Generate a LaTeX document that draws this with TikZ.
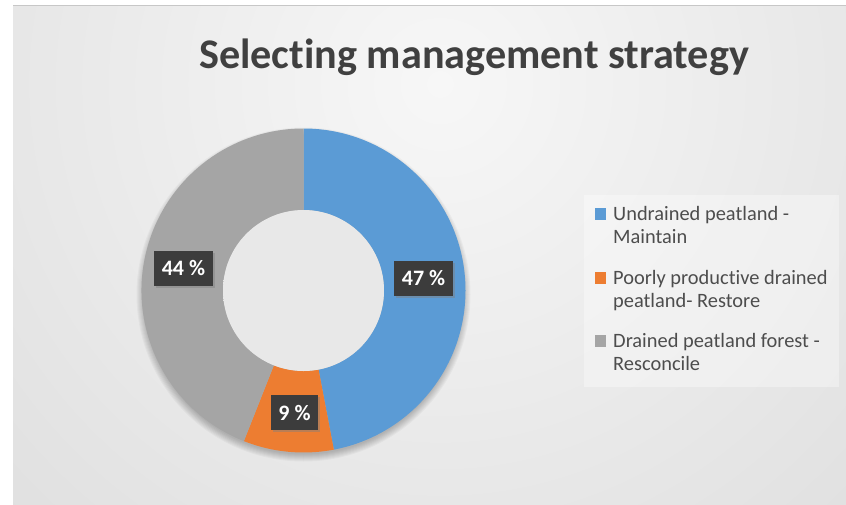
\documentclass[tikz,border=0pt]{standalone}
\usepackage{fontspec}
\setmainfont{Carlito}[Ligatures={NoCommon}]
\usetikzlibrary{shadows}
\definecolor{bgin}{HTML}{F7F7F7}
\definecolor{bgout}{HTML}{C6C6C6}
\definecolor{hin}{HTML}{E8E8E8}
\definecolor{hout}{HTML}{D4D4D4}
\definecolor{sblue}{HTML}{5B9BD5}
\definecolor{sorange}{HTML}{ED7D31}
\definecolor{sgray}{HTML}{A5A5A5}
\definecolor{lblbox}{HTML}{3C3C3C}
\definecolor{titlec}{HTML}{404040}
\definecolor{legc}{HTML}{4D4D4D}
\pgfdeclareradialshading{bgshade}{\pgfpoint{0bp}{0bp}}{color(0bp)=(bgin); color(50bp)=(bgout)}
\pgfdeclareradialshading{holeshade}{\pgfpoint{0bp}{0bp}}{color(0bp)=(hin); color(30bp)=(hin); color(50bp)=(hout)}
\begin{document}
\begin{tikzpicture}[x=1pt,y=-1pt,
  lbl/.style={fill=lblbox, text=white, font=\fontsize{22}{26}\selectfont\bfseries,
    minimum height=35pt, inner sep=0pt,
    drop shadow={shadow xshift=2pt, shadow yshift=-2pt, opacity=0.45}},
  legtext/.style={anchor=base west, inner sep=0pt, text=legc, font=\fontsize{20.4}{24}\selectfont},
  legkey/.style={inner sep=0pt, minimum size=11.5pt}]
\useasboundingbox (0,0) rectangle (846,504);
\fill[white] (0,0) rectangle (846,504);
\begin{scope}
  \clip (13,5) rectangle (846,504);
  \shade[shading=bgshade] (440,84) circle (650);
\end{scope}
\draw[black!22, line width=1pt] (13,5.5) -- (846,5.5);

% title
\node[anchor=base west, inner sep=0pt, text=titlec, font=\fontsize{42.2}{48}\selectfont\bfseries]
  (title) at (199,68.3) {Selecting management strategy};

% donut shadow
\foreach \k in {1,...,8} \fill[black, opacity=0.03] (303.5,294.5) circle (159+\k);

% donut
\begin{scope}[shift={(303.5,290.5)}]
  \fill[sblue] (-90:162) arc[start angle=-90,end angle=79.2,radius=162]
    -- (79.2:80.5) arc[start angle=79.2,end angle=-90,radius=80.5] -- cycle;
  \fill[sorange] (79.2:162) arc[start angle=79.2,end angle=111.6,radius=162]
    -- (111.6:80.5) arc[start angle=111.6,end angle=79.2,radius=80.5] -- cycle;
  \fill[sgray] (111.6:162) arc[start angle=111.6,end angle=270,radius=162]
    -- (270:80.5) arc[start angle=270,end angle=111.6,radius=80.5] -- cycle;
  \shade[shading=holeshade] (0,0) circle (80.5);
\end{scope}

% data labels
\node[lbl, minimum width=59pt] (p47) at (423.5,278) {47 \%};
\node[lbl, minimum width=59pt] (p44) at (183.5,268.5) {44 \%};
\node[lbl, minimum width=47pt] (p9) at (294.5,412.5) {9 \%};

% legend
\fill[white, opacity=0.35] (584,195) rectangle (839,387);
\node[legkey, fill=sblue] (k1) at (600.5,214) {};
\node[legkey, fill=sorange] (k2) at (600.5,278) {};
\node[legkey, fill=sgray] (k3) at (600.5,341) {};
\node[legtext] (l1a) at (613,220) {Undrained peatland -};
\node[legtext] (l1b) at (613,243.5) {Maintain};
\node[legtext] (l2a) at (613,284) {Poorly productive drained};
\node[legtext] (l2b) at (613,307.5) {peatland- Restore};
\node[legtext] (l3a) at (613,347) {Drained peatland forest -};
\node[legtext] (l3b) at (613,370.5) {Resconcile};
\end{tikzpicture}
\end{document}
